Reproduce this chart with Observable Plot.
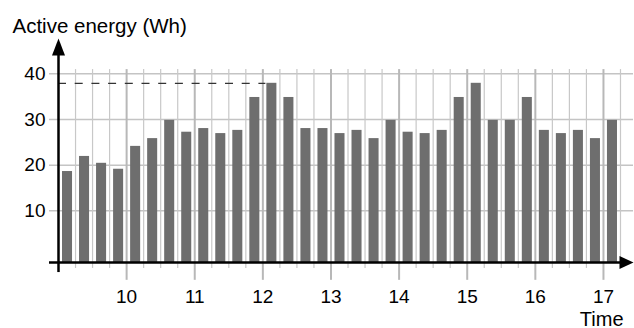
<!DOCTYPE html>
<html><head><meta charset="utf-8">
<script src="https://cdn.jsdelivr.net/npm/d3@7"></script>
<script src="https://cdn.jsdelivr.net/npm/@observablehq/plot@0.6"></script>
<style>html,body{margin:0;padding:0;background:#fff}svg{display:block}</style>
</head><body><div id="chart"></div>
<script>
const times = ["9:00","9:15","9:30","9:45","10:00","10:15","10:30","10:45","11:00","11:15","11:30","11:45",
  "12:00","12:15","12:30","12:45","13:00","13:15","13:30","13:45","14:00","14:15","14:30","14:45",
  "15:00","15:15","15:30","15:45","16:00","16:15","16:30","16:45","17:00"];
const energy = [18.6,21.9,20.4,19.1,24.1,25.8,29.8,27.2,28.0,26.9,27.6,34.8,
  37.9,34.8,28.0,28.0,26.9,27.6,25.8,29.8,27.2,26.9,27.6,34.8,
  37.9,29.8,29.8,34.8,27.6,26.9,27.6,25.8,29.8];
const hourTicks = [10,11,12,13,14,15,16,17];
const yTicks = [10,20,30,40];
const yTitle = "Active energy (Wh)";
const xTitle = "Time";

const toHours = s => { const [h, m] = s.split(":").map(Number); return h + m / 60; };
const slot = 0.25;
const data = times.map((t, i) => ({t: toHours(t), v: energy[i]}));
const gridX = data.map(d => d.t + slot);
const peak = d3.max(energy);
const peakStart = data.find(d => d.v === peak).t;

const yBase = -1.3, yMax = 47.7;
const xMin = 9, xMax = 17.441;
const FONT = "'Liberation Sans', Arial, Helvetica, sans-serif";

const upArrow = {draw(ctx) { ctx.moveTo(0, 0); ctx.lineTo(6.5, 17); ctx.lineTo(-6.5, 17); ctx.closePath(); }};
const rightArrow = {draw(ctx) { ctx.moveTo(0, 0); ctx.lineTo(-14, -6.5); ctx.lineTo(-14, 6.5); ctx.closePath(); }};

const chart = Plot.plot({
  width: 634, height: 328,
  marginLeft: 58, marginRight: 1, marginTop: 38, marginBottom: 66,
  style: {fontFamily: FONT, fontSize: "19px", background: "#fff", color: "#000"},
  x: {type: "linear", domain: [xMin, xMax]},
  y: {domain: [yBase, yMax]},
  marks: [
    Plot.ruleY(yTicks, {stroke: "#c4c4c4", strokeWidth: 1.5, insetLeft: -9}),
    Plot.ruleX(gridX.filter(x => x % 1 !== 0), {y1: -2.6, y2: 40.9, stroke: "#c8c8c8", strokeWidth: 1.2}),
    Plot.ruleX(gridX.filter(x => x % 1 === 0), {y1: -5.2, y2: 40.9, stroke: "#b8b8b8", strokeWidth: 2}),
    Plot.rect(data, {x1: "t", x2: d => d.t + slot, y1: () => yBase, y2: "v", insetLeft: 4, insetRight: 3, fill: "#6e6e6e"}),
    Plot.ruleY([peak], {x1: xMin, x2: peakStart, insetRight: -3, stroke: "#333", strokeWidth: 1.3, strokeDasharray: "8,8.7"}),
    Plot.axisY(yTicks, {tickSize: 0, tickPadding: 13, label: null, fontSize: 19}),
    Plot.axisX(hourTicks, {tickSize: 0, tickPadding: 27, label: null, fontSize: 19, tickFormat: d => String(d)}),
    Plot.ruleX([xMin], {y1: -3.5, y2: yMax - 3, stroke: "#000", strokeWidth: 2.5}),
    Plot.ruleY([yBase], {x1: xMin, x2: xMax - 0.1, insetLeft: -9, stroke: "#000", strokeWidth: 2.5}),
    Plot.dot([0], {x: () => xMin, y: () => yMax, symbol: upArrow, fill: "#000", stroke: null}),
    Plot.dot([0], {x: () => xMax, y: () => yBase, symbol: rightArrow, fill: "#000", stroke: null}),
    Plot.text([yTitle], {frameAnchor: "top-left", textAnchor: "start", lineAnchor: "bottom", dx: -46, dy: -6, fontSize: 20.5, fill: "#000"}),
    Plot.text([xTitle], {frameAnchor: "bottom-right", textAnchor: "end", lineAnchor: "bottom", dx: -10, dy: 63, fontSize: 20, fill: "#000"})
  ]
});
document.getElementById("chart").appendChild(chart);
</script>
</body></html>
